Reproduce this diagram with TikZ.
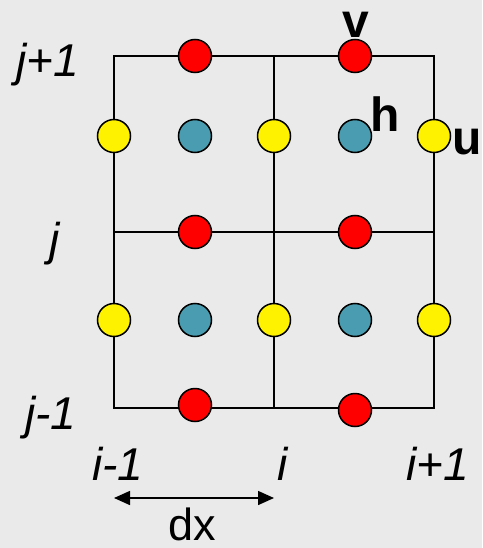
\documentclass[tikz,border=0pt]{standalone}
\usepackage{fontspec}
\setmainfont{Liberation Sans}
\usetikzlibrary{arrows.meta,positioning,calc}
\definecolor{bg}{HTML}{EAEAEA}
\definecolor{hcol}{HTML}{4A9DB0}

\begin{document}
\begin{tikzpicture}[
  x=1pt, y=-1pt,
  >={Triangle[length=16pt,width=14pt]},
  grid/.style={line width=1.6pt},
  pt/.style={circle, draw, line width=1.5pt, minimum size=33pt, inner sep=0pt},
  vpt/.style={pt, fill=red},
  upt/.style={pt, fill=yellow},
  hpt/.style={pt, fill=hcol},
  idx/.style={font=\fontsize{46}{46}\selectfont\itshape, anchor=base, inner sep=0pt},
  var/.style={font=\fontsize{48}{48}\selectfont\bfseries, anchor=base, inner sep=0pt}
]
\fill[bg] (0,0) rectangle (482,548);
\useasboundingbox (0,0) rectangle (482,548);

% Grid lines
\draw[grid] (114,56) rectangle (434,408);
\draw[grid] (274,56) -- (274,408);
\draw[grid] (114,232) -- (434,232);

% v label sits behind its circle
\node[var] (vlab) at (356,38) {v};

% v points (red)
\foreach \x/\y/\n in {195/56/a, 355/56/b, 195/232/c, 355/232/d, 195/405/e, 355/410/f}
  \node[vpt] (v\n) at (\x,\y) {};
% u points (yellow)
\foreach \x/\y/\n in {114/136/a, 274/136/b, 434/136/c, 114/320/d, 274/320/e, 434/320/f}
  \node[upt] (u\n) at (\x,\y) {};
% h points (teal)
\foreach \x/\y/\n in {195/136/a, 355/136/b, 195/320/c, 355/320/d}
  \node[hpt] (h\n) at (\x,\y) {};

% Variable labels
\node[var] (hlab) at (385,132) {h};
\node[var] (ulab) at (467,155) {u};

% Index labels
\node[idx] (jp) at (48,77) {j+1};
\node[idx] (j0) at (55,255) {j};
\node[idx] (jm) at (51,429) {j-1};
\node[idx] (im) at (118,480) {i-1};
\node[idx] (i0) at (283,480) {i};
\node[idx] (ip) at (438,480) {i+1};

% Grid spacing
\coordinate (dxl) at (114,498);
\coordinate (dxr) at (274,498);
\draw[<->, line width=1.5pt] (dxl) -- (dxr);
\node[font=\fontsize{45}{45}\selectfont, anchor=base, inner sep=0pt] (dx) at (192,540) {dx};
\end{tikzpicture}
\end{document}
